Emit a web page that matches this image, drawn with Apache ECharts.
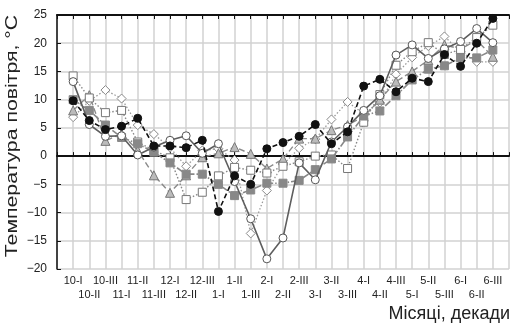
<!DOCTYPE html>
<html><head><meta charset="utf-8">
<script src="https://cdn.jsdelivr.net/npm/echarts@6/dist/echarts.min.js"></script>
<style>html,body{margin:0;padding:0;background:#fff}#c{width:512px;height:331px}</style>
</head><body><div id="c"></div>
<script>
const categories = ['10-I','10-II','10-III','11-I','11-II','11-III','12-I','12-II','12-III','1-I','1-II','1-III','2-I','2-II','2-III','3-I','3-II','3-III','4-I','4-II','4-III','5-I','5-II','5-III','6-I','6-II','6-III'];
const yTicks = [-20,-15,-10,-5,0,5,10,15,20,25];
const seriesCircle   = [13.2,5.6,3.5,3.6,0.2,1.6,2.8,3.6,0.5,2.2,-4.5,-11.1,-18.2,-14.5,-1.2,-4.2,2.5,5.2,8.1,10.7,17.9,19.7,17.3,19.0,20.3,22.6,20.1];
const seriesBlack    = [9.8,6.3,4.7,5.3,6.7,1.8,1.8,1.5,2.8,-9.8,-3.5,-5.0,1.3,2.4,3.5,5.6,2.2,4.3,12.4,13.6,11.4,13.8,13.2,18.0,15.9,20.0,24.4];
const seriesGraySq   = [10.0,8.1,5.5,3.3,2.2,0.7,-1.2,-3.2,-3.2,-5.0,-7.0,-6.0,-4.8,-4.8,-4.3,-2.4,-0.5,3.4,7.1,8.0,10.7,13.5,15.4,16.0,17.4,17.4,18.8];
const seriesOpenSq   = [14.2,10.3,7.7,8.1,2.5,1.0,-0.3,-7.7,-6.4,-3.5,-2.0,-2.5,-3.0,-1.8,-1.0,0.0,0.2,-2.2,6.0,10.9,16.1,18.5,20.1,18.0,18.9,21.0,23.2];
const seriesTriangle = [8.1,10.8,2.7,4.0,1.0,-3.4,-6.5,-3.4,-0.2,0.5,1.6,0.4,-2.2,-0.5,3.1,3.1,4.6,5.5,7.0,10.0,13.2,15.0,17.0,19.7,19.0,20.5,17.6];
const seriesDiamond  = [6.9,9.8,11.7,10.2,5.5,3.9,1.5,-1.8,1.0,1.3,-0.7,-13.7,-6.1,-1.5,1.4,3.0,6.5,9.6,7.5,9.5,14.5,17.5,19.5,21.2,18.5,16.7,16.7];

const axisCats = [''].concat(categories, ['']);
const pad = arr => [null].concat(arr, [null]);
const font = 'Liberation Sans, Arial, sans-serif';

function mk(name, data, lineColor, lineWidth, lineType, symbol, size, fill, border, z) {
  return {
    name, type: 'line', data: pad(data), symbol, symbolSize: size, z: z,
    lineStyle: { color: lineColor, width: lineWidth, type: lineType },
    itemStyle: { color: fill, borderColor: border, borderWidth: 1 },
    emphasis: { disabled: true }, animation: false, connectNulls: false
  };
}

const chart = echarts.init(document.getElementById('c'), null, { renderer: 'canvas' });
chart.setOption({
  animation: false,
  grid: { left: 57, top: 15, width: 457, height: 254, containLabel: false },
  xAxis: [{
    type: 'category', data: axisCats, boundaryGap: false,
    axisLine: { lineStyle: { color: '#111', width: 2 } },
    axisTick: { inside: true, length: 4, interval: 0, lineStyle: { color: '#111' } },
    axisLabel: { interval: 0, fontSize: 11, fontFamily: font, color: '#222', margin: 5, lineHeight: 14,
      formatter: (v, i) => (i % 2 === 1 ? v : '\n' + v) },
    splitLine: { show: true, interval: 0, lineStyle: { color: '#d2d2d2', width: 1.5 } }
  }, {
    type: 'category', data: axisCats, boundaryGap: false, position: 'top',
    axisLine: { lineStyle: { color: '#111', width: 2 } },
    axisTick: { inside: true, length: 4, interval: 0, lineStyle: { color: '#111' } },
    axisLabel: { show: false }, splitLine: { show: false }
  }],
  yAxis: {
    type: 'value', min: -20, max: 25, interval: 5,
    axisLine: { show: true, lineStyle: { color: '#111', width: 1.5 } },
    axisTick: { show: true, inside: true, length: 4, lineStyle: { color: '#111' } },
    axisLabel: { fontSize: 12, fontFamily: font, color: '#222', margin: 10,
      formatter: v => (yTicks.includes(v) ? String(v).replace('-', '\u2212') : '') },
    splitLine: { lineStyle: { color: '#d2d2d2', width: 1.5 } }
  },
  series: [
    mk('d', seriesDiamond, '#9a9a9a', 1.3, [1.5, 2], 'diamond', 9, '#fff', '#888', 2),
    mk('t', seriesTriangle, '#8a8a8a', 1.4, [6, 3], 'triangle', 9, '#bbb', '#777', 3),
    mk('os', seriesOpenSq, '#888', 1.4, [1.5, 2], 'rect', 8, '#fff', '#777', 4),
    mk('gs', seriesGraySq, '#888', 1.6, [7, 2, 1.5, 2], 'rect', 8, '#888', '#888', 5),
    mk('c', seriesCircle, '#5e5e5e', 1.6, 'solid', 'circle', 8, '#fff', '#555', 6),
    mk('b', seriesBlack, '#111', 1.6, [5, 3], 'circle', 8, '#111', '#111', 7)
  ],
  graphic: [
    { type: 'text', right: 2, top: 305,
      style: { text: 'Місяці, декади', fontSize: 18, fontFamily: font, fill: '#222' } },
    { type: 'text', x: 12, y: 136, rotation: Math.PI / 2, scaleX: 1.25, scaleY: 1,
      style: { text: 'Температура повітря, °С', fontSize: 17, fontFamily: font, fill: '#222',
        align: 'center', verticalAlign: 'middle' } }
  ]
});
</script></body></html>
